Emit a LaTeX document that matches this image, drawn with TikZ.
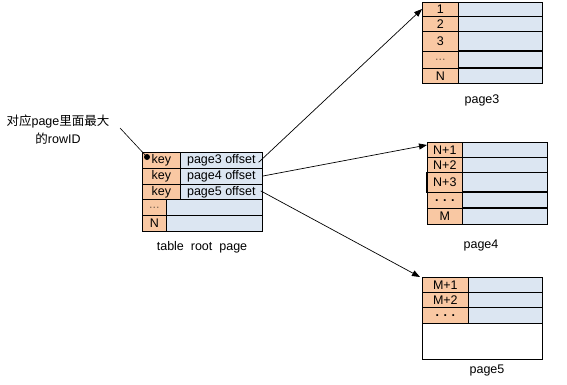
\documentclass[tikz,border=0pt]{standalone}
\usepackage{fontspec}
\setmainfont{Liberation Sans}
\newfontfamily\cjk{Noto Sans CJK SC}
\usetikzlibrary{arrows.meta}
\definecolor{orng}{HTML}{F9C8A3}
\definecolor{lblue}{HTML}{DCE6F2}
\tikzset{
  cellbox/.style={draw=black, line width=0.7pt, inner sep=0pt, anchor=north west, font=\fontsize{12.5}{12.5}\selectfont},
  okey/.style={cellbox, fill=orng},
  bval/.style={cellbox, fill=lblue},
  wcell/.style={cellbox, fill=white},
  arr/.style={line width=0.7pt, -{Triangle[length=8pt,width=6pt]}},
  lbl/.style={font=\fontsize{12.5}{12.5}\selectfont, inner sep=0pt}
}
\begin{document}
\begin{tikzpicture}[x=1pt,y=-1pt]
\useasboundingbox (0,0) rectangle (567,384);
% ---------- root table ----------
\node[okey, minimum width=38pt, minimum height=15.8pt] (rk1) at (142,152) {key};
\node[bval, minimum width=82pt, minimum height=15.8pt] (rv1) at (180,152) {page3 offset};
\node[okey, minimum width=38pt, minimum height=15.8pt] (rk2) at (142,167.8) {key};
\node[bval, minimum width=82pt, minimum height=15.8pt] (rv2) at (180,167.8) {page4 offset};
\node[okey, minimum width=38pt, minimum height=15.8pt] (rk3) at (142,183.6) {key};
\node[bval, minimum width=82pt, minimum height=15.8pt] (rv3) at (180,183.6) {page5 offset};
\node[okey, minimum width=24pt, minimum height=15.8pt, text=orng!50!black] (rk4) at (142,199.4) {...};
\node[bval, minimum width=96pt, minimum height=15.8pt] (rv4) at (166,199.4) {};
\node[okey, minimum width=24pt, minimum height=15.8pt] (rk5) at (142,215.2) {N};
\node[bval, minimum width=96pt, minimum height=15.8pt] (rv5) at (166,215.2) {};
\node[lbl] (rootlbl) at (202,247) {table\ \ root\ \ page};
% ---------- page3 ----------
\node[okey, minimum width=36pt, minimum height=14pt] (a1) at (422,2) {1};
\node[bval, minimum width=84pt, minimum height=14pt] (b1) at (458,2) {};
\node[okey, minimum width=36pt, minimum height=15pt] (a2) at (422,16) {2};
\node[bval, minimum width=84pt, minimum height=15pt] (b2) at (458,16) {};
\node[okey, minimum width=36pt, minimum height=20pt] (a3) at (422,31) {3};
\node[bval, minimum width=84pt, minimum height=20pt] (b3) at (458,31) {};
\node[okey, minimum width=36pt, minimum height=17pt, text=orng!50!black] (a4) at (422,51) {...};
\node[bval, minimum width=84pt, minimum height=17pt] (b4) at (458,51) {};
\node[okey, minimum width=36pt, minimum height=15pt] (a5) at (422,68) {N};
\node[bval, minimum width=84pt, minimum height=15pt] (b5) at (458,68) {};
\draw[line width=1.5pt] (b4.north west) -- (b4.north east);
\draw[line width=1.5pt] (b5.north west) -- (b5.north east);
\node[lbl] (p3lbl) at (482,100) {page3};
% ---------- page4 ----------
\node[okey, minimum width=35pt, minimum height=15pt] (c1) at (427,142) {N+1};
\node[bval, minimum width=85pt, minimum height=15pt] (d1) at (462,142) {};
\node[okey, minimum width=35pt, minimum height=15pt] (c2) at (427,157) {N+2};
\node[bval, minimum width=85pt, minimum height=15pt] (d2) at (462,157) {};
\node[okey, minimum width=35pt, minimum height=20pt] (c3) at (427,172) {N+3};
\node[bval, minimum width=85pt, minimum height=20pt] (d3) at (462,172) {};
\node[okey, minimum width=35pt, minimum height=16pt] (c4) at (427,192) {\textbf{. . .}};
\node[bval, minimum width=85pt, minimum height=16pt] (d4) at (462,192) {};
\node[okey, minimum width=35pt, minimum height=16pt] (c5) at (427,208) {M};
\node[bval, minimum width=85pt, minimum height=16pt] (d5) at (462,208) {};
\draw[line width=1.5pt] (c3.north west) -- (c3.south west);
\draw[line width=1.5pt] (d4.north west) -- (d4.north east);
\draw[line width=1.5pt] (d5.north west) -- (d5.north east);
\node[lbl] (p4lbl) at (481,245) {page4};
% ---------- page5 ----------
\node[wcell, minimum width=120pt, minimum height=82pt] (e0) at (422,277) {};
\node[okey, minimum width=46pt, minimum height=15pt] (e1) at (422,277) {M+1};
\node[bval, minimum width=74pt, minimum height=15pt] (f1) at (468,277) {};
\node[okey, minimum width=46pt, minimum height=15pt] (e2) at (422,292) {M+2};
\node[bval, minimum width=74pt, minimum height=15pt] (f2) at (468,292) {};
\node[okey, minimum width=46pt, minimum height=16pt] (e3) at (422,307) {\textbf{. . .}};
\node[bval, minimum width=74pt, minimum height=16pt] (f3) at (468,307) {};
\node[lbl] (p5lbl) at (487,370) {page5};
% ---------- annotation ----------
\node[lbl, align=center] (note) at (58,130) {\cjk 对应\rmfamily page\cjk 里面最大\\[4pt]\cjk 的\rmfamily rowID};
\coordinate (dot) at (147,157);
\coordinate (noteend) at (120,128);
\draw[line width=0.6pt] (noteend) -- (dot);
\fill (dot) circle (3pt);
% ---------- arrows ----------
\draw[arr] ([xshift=-4pt,yshift=-2pt]rv1.east) -- ([yshift=-7pt]a1.north west);
\draw[arr] (rv2.east) -- ([yshift=-3pt]c1.north west);
\draw[arr] ([xshift=-2pt,yshift=1pt]rv3.east) -- ([xshift=-2pt]e1.north west);
\end{tikzpicture}
\end{document}
